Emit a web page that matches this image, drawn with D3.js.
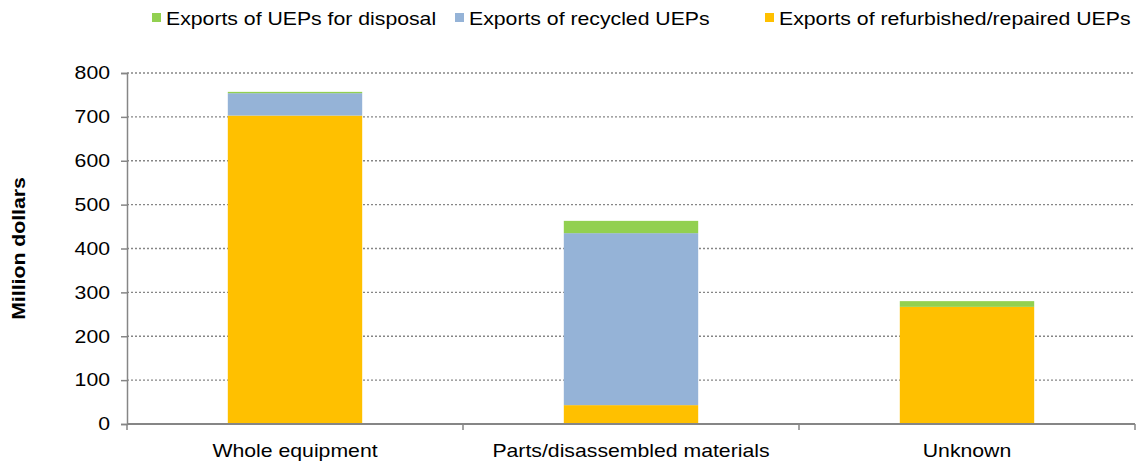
<!DOCTYPE html>
<html lang="en">
<head>
<meta charset="UTF-8">
<title>UEP exports</title>
<script src="https://d3js.org/d3.v7.min.js"></script>
<style>
  body { margin: 0; background: #fff; font-family: "Liberation Sans", Arial, sans-serif; }
  .axis text, .legend text { font-size: 18px; fill: #000; }
</style>
</head>
<body>
<div id="chart"></div>
<script>
// categories and series values (million dollars)
const categories = ["Whole equipment", "Parts/disassembled materials", "Unknown"];
const refurbished = [703, 43, 267];
const recycled = [51, 392, 0];
const disposal = [3, 28, 13];
const yTicks = [0, 100, 200, 300, 400, 500, 600, 700, 800];

const series = [
  { name: "Exports of refurbished/repaired UEPs", values: refurbished, color: "#ffc000" },
  { name: "Exports of recycled UEPs", values: recycled, color: "#95b3d7" },
  { name: "Exports of UEPs for disposal", values: disposal, color: "#92d050" }
];

const stretch = 1.18; // the original text is a little wide
const width = 1137, height = 464;
const margin = { top: 73, right: 2, bottom: 40, left: 127 };
const innerW = width - margin.left - margin.right;
const innerH = height - margin.top - margin.bottom;

const svg = d3.select("#chart").append("svg")
  .attr("width", width).attr("height", height);
const g = svg.append("g").attr("transform", `translate(${margin.left},${margin.top})`);

const x = d3.scaleBand().domain(categories).range([0, innerW]).paddingInner(0.6).paddingOuter(0.3);
const y = d3.scaleLinear().domain([0, 800]).range([innerH, 0]);

// gridlines
g.selectAll(".grid").data(yTicks.filter(d => d > 0)).enter().append("line")
  .attr("x1", 0).attr("x2", innerW)
  .attr("y1", d => y(d)).attr("y2", d => y(d))
  .attr("stroke", "#868686").attr("stroke-width", 1.3).attr("stroke-dasharray", "2,2");

// stacked bars
const rows = categories.map((c, i) => {
  const r = { cat: c };
  series.forEach(s => { r[s.name] = s.values[i]; });
  return r;
});
const stack = d3.stack().keys(series.map(s => s.name))(rows);
g.selectAll(".layer").data(stack).enter().append("g")
  .attr("fill", (d, i) => series[i].color)
  .selectAll("rect").data(d => d).enter().append("rect")
  .attr("x", d => x(d.data.cat))
  .attr("width", x.bandwidth())
  .attr("y", d => y(d[1]))
  .attr("height", d => y(d[0]) - y(d[1]));

// y axis
const yAxis = g.append("g").attr("class", "axis")
  .call(d3.axisLeft(y).tickValues(yTicks).tickSize(6));
yAxis.select(".domain").attr("stroke", "#868686").attr("stroke-width", 1.5);
yAxis.selectAll(".tick line").attr("stroke", "#868686").attr("stroke-width", 1.5);
yAxis.selectAll(".tick text").attr("x", 0)
  .attr("transform", `translate(-17,0) scale(${stretch},1)`);

// x axis with ticks at band boundaries
const xAxisG = g.append("g").attr("class", "axis").attr("transform", `translate(0,${innerH})`);
xAxisG.append("line").attr("x1", 0).attr("x2", innerW)
  .attr("stroke", "#868686").attr("stroke-width", 2);
const step = innerW / categories.length;
xAxisG.selectAll(".xt").data(d3.range(categories.length + 1)).enter().append("line")
  .attr("x1", d => d * step).attr("x2", d => d * step)
  .attr("y1", 0).attr("y2", 6)
  .attr("stroke", "#868686").attr("stroke-width", 1.5);
xAxisG.selectAll(".xl").data(categories).enter().append("text")
  .attr("transform", d => `translate(${x(d) + x.bandwidth() / 2},33) scale(${stretch},1)`)
  .attr("text-anchor", "middle")
  .text(d => d);

// y title
svg.append("text")
  .attr("transform", `translate(25,${margin.top + innerH / 2}) rotate(-90) scale(${stretch},1)`)
  .attr("text-anchor", "middle")
  .style("font-size", "18px").style("font-weight", "bold")
  .text("Million dollars");

// legend
const legendItems = [
  { name: "Exports of UEPs for disposal", color: "#92d050", x: 152 },
  { name: "Exports of recycled UEPs", color: "#95b3d7", x: 455 },
  { name: "Exports of refurbished/repaired UEPs", color: "#ffc000", x: 765 }
];
const lg = svg.append("g").attr("class", "legend");
const li = lg.selectAll("g").data(legendItems).enter().append("g")
  .attr("transform", d => `translate(${d.x},0)`);
li.append("rect").attr("x", 0).attr("y", 13).attr("width", 9).attr("height", 9)
  .attr("fill", d => d.color);
li.append("text").attr("transform", `translate(14,25) scale(${stretch},1)`).text(d => d.name);
</script>
</body>
</html>
